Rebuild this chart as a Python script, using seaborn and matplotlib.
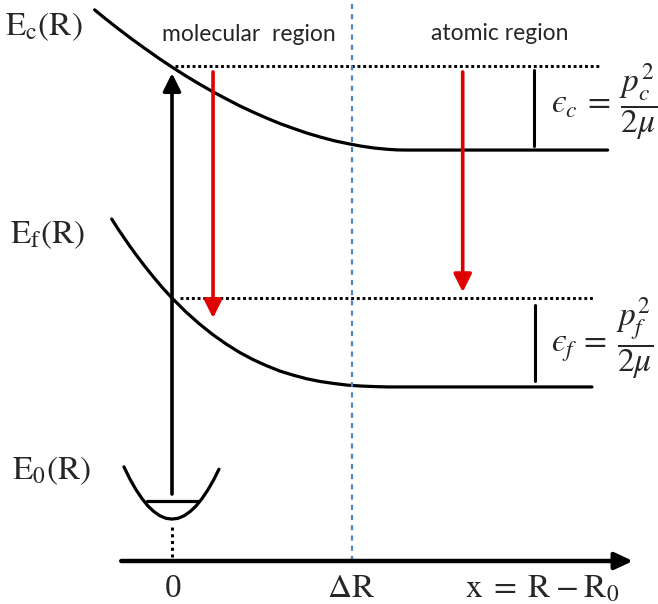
import matplotlib
matplotlib.use("Agg")
import matplotlib.pyplot as plt
import seaborn as sns
import pandas as pd

# x in units of dR (0 = equilibrium, 1 = dR), energy in arbitrary units
ec_x = [-0.43, -0.375, -0.3, -0.225, -0.15, -0.075, 0.0, 0.075, 0.15, 0.225, 0.3, 0.375,
        0.45, 0.525, 0.6, 0.675, 0.75, 0.825, 0.9, 0.975, 1.05, 1.125, 1.2, 1.25, 1.3, 2.42]
ec_E = [3.062, 3.017, 2.958, 2.901, 2.847, 2.794, 2.744, 2.696, 2.651, 2.608, 2.568, 2.529,
        2.494, 2.461, 2.430, 2.403, 2.377, 2.355, 2.335, 2.319, 2.305, 2.294, 2.287, 2.284,
        2.283, 2.283]
ef_x = [-0.335, -0.3, -0.27, -0.235, -0.2, -0.15, -0.1, -0.05, 0.0, 0.075, 0.15, 0.225,
        0.3, 0.375, 0.45, 0.525, 0.6, 0.675, 0.75, 0.825, 0.9, 0.975, 1.05, 1.125, 1.2, 2.333]
ef_E = [1.900, 1.845, 1.801, 1.750, 1.702, 1.636, 1.574, 1.515, 1.461, 1.386, 1.319, 1.259,
        1.206, 1.159, 1.119, 1.085, 1.055, 1.032, 1.012, 0.997, 0.986, 0.977, 0.972, 0.969,
        0.967, 0.967]
e0_x = [-0.267, -0.233, -0.2, -0.167, -0.133, -0.1, -0.067, -0.033, 0.0,
        0.033, 0.067, 0.1, 0.133, 0.167, 0.2, 0.233, 0.261]
e0_E = [0.523, 0.454, 0.396, 0.347, 0.305, 0.274, 0.251, 0.237, 0.233,
        0.237, 0.251, 0.274, 0.305, 0.347, 0.396, 0.454, 0.510]

ground_level = 0.335
ground_span = [-0.139, 0.144]
level_c = 2.75
level_f = 1.459
level_c_span = [0.017, 2.378]
level_f_span = [0.044, 2.339]
dR = 1.0

# red arrows: (x, start, tip)
red_x = [0.228, 1.615]
red_start = [2.717, 2.717]
red_tip = [1.35, 1.494]

eps_bar_x = [2.011, 2.017]
eps_bar_top = [2.728, 1.422]
eps_bar_bottom = [2.306, 1.0]

curve_labels = [r"$\mathrm{E_c(R)}$", r"$\mathrm{E_f(R)}$", r"$\mathrm{E_0(R)}$"]
eps_labels = ["$\u03f5_c\\:=\\:\\dfrac{p_c^2}{2\\mu}$", "$\u03f5_f\\:=\\:\\dfrac{p_f^2}{2\\mu}$"]
tick_labels = ["0", r"$\mathrm{\Delta R}$", r"$\mathrm{x\;=\;R\:-\:R_0}$"]

sns.set_style("white")
plt.rcParams["mathtext.fontset"] = "stix"
plt.rcParams["font.family"] = ["Lato", "DejaVu Sans"]

fig = plt.figure(figsize=(6.58, 6.04), dpi=100)
ax = fig.add_axes([0, 0, 1, 1])

df = pd.concat([
    pd.DataFrame({"x": ec_x, "E": ec_E, "curve": "c"}),
    pd.DataFrame({"x": ef_x, "E": ef_E, "curve": "f"}),
    pd.DataFrame({"x": e0_x, "E": e0_E, "curve": "0"}),
])
sns.lineplot(data=df, x="x", y="E", units="curve", estimator=None, sort=False,
             color="black", lw=2.3, ax=ax)

# ground vibrational level
ax.plot(ground_span, [ground_level, ground_level], color="black", lw=2.3)
ax.plot([0, 0], [0.022, 0.194], color="black", lw=2.2, ls=(0, (1, 1.2)))

# dotted energy levels
ax.plot(level_c_span, [level_c, level_c], color="black", lw=2.1, ls=(0, (1, 0.95)))
ax.plot(level_f_span, [level_f, level_f], color="black", lw=2.1, ls=(0, (1, 0.95)))

# separation of regions
ax.plot([dR, dR], [0, 3.2], color="#4a86c8", lw=1.6, ls=(0, (2.3, 2.3)))

# excitation arrow
ax.annotate("", xy=(0, 2.71), xytext=(0, 0.372),
            arrowprops=dict(arrowstyle="-|>,head_length=0.6,head_width=0.3", lw=2.6,
                            color="black", mutation_scale=18, shrinkA=0, shrinkB=0))
for x, s, t in zip(red_x, red_start, red_tip):
    ax.annotate("", xy=(x, t), xytext=(x, s),
                arrowprops=dict(arrowstyle="-|>,head_length=0.6,head_width=0.3", lw=2.6,
                                color="#e00000", mutation_scale=18, shrinkA=0, shrinkB=0))

# x axis
ax.annotate("", xy=(2.561, 0), xytext=(-0.282, 0),
            arrowprops=dict(arrowstyle="-|>,head_length=0.6,head_width=0.28", lw=3.2,
                            color="black", mutation_scale=18, shrinkA=0, shrinkB=0))

for x, t, b in zip(eps_bar_x, eps_bar_top, eps_bar_bottom):
    ax.plot([x, x], [b, t], color="black", lw=2.2)

# labels
ax.text(-0.928, 2.922, curve_labels[0], fontsize=24, ha="left", va="baseline")
ax.text(-0.9, 1.767, curve_labels[1], fontsize=24, ha="left", va="baseline")
ax.text(-0.889, 0.456, curve_labels[2], fontsize=24, ha="left", va="baseline")

ax.text(2.105, 2.55, eps_labels[0], fontsize=24, ha="left", va="center")
ax.text(2.105, 1.24, eps_labels[1], fontsize=24, ha="left", va="center")

ax.text(0.425, 2.889, "molecular  region", fontsize=16.5, ha="center", va="baseline")
ax.text(1.819, 2.894, "atomic region", fontsize=16.5, ha="center", va="baseline")

ax.text(0.006, -0.2, tick_labels[0], fontsize=24, family="Liberation Serif",
        ha="center", va="baseline")
ax.text(0.997, -0.2, tick_labels[1], fontsize=24, ha="center", va="baseline")
ax.text(1.628, -0.205, tick_labels[2], fontsize=24, ha="left", va="baseline")

ax.set_xlim(-172 / 180, 486 / 180)
ax.set_ylim(-43 / 180, 561 / 180)
ax.axis("off")

fig.savefig("out.png", dpi=100)
